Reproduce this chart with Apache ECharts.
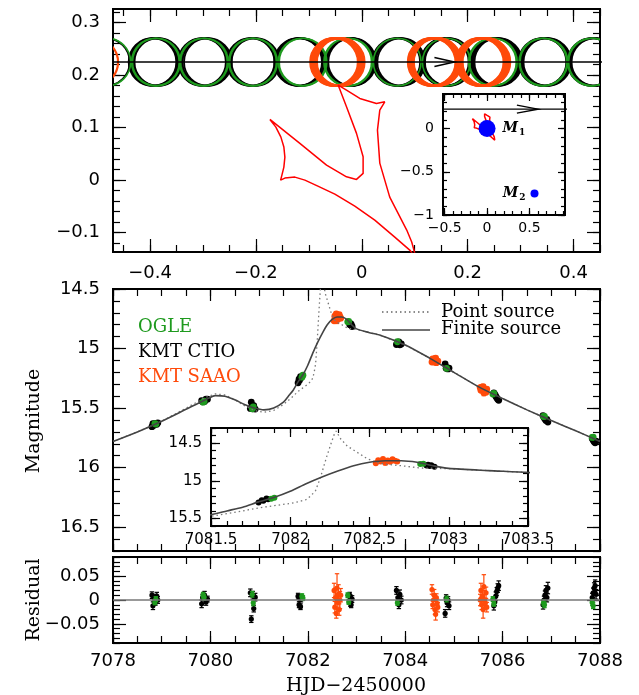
<!DOCTYPE html>
<html lang="en">
<head>
<meta charset="UTF-8">
<title>Caustic crossing and light curve</title>
<style>
  html, body { margin: 0; padding: 0; background: #fff; }
  #app { width: 639px; height: 695px; }
</style>
</head>
<body>
<div id="app"></div>
<script src="https://cdn.jsdelivr.net/npm/echarts@6/dist/echarts.min.js"></script>
<script>
// source trajectory
var t0 = 7083.11, tE = 10.9, u0 = 0.225, rho = 0.045;
var trajX = [-1.2, 1.2];
var arrowMainX = 0.175, arrowInsetX = 0.6;

// caustic
var causticX = [-0.1736, -0.1623, -0.1528, -0.1472, -0.1453, -0.1472, -0.1509, -0.1534, -0.1453, -0.1264,
  -0.1075, -0.083, -0.0509, -0.0132, 0.0245, 0.0623, 0.0906, 0.103, 0.0943, 0.0849,
  0.0528, 0.034, 0.0296, 0.034, 0.0434, 0.0277, -0.0038, -0.0289, -0.0447, -0.0289,
  -0.01, 0.0025, 0.0025, -0.01, -0.0289, -0.0666, -0.117, -0.1736];
var causticY = [0.1156, 0.101, 0.0819, 0.0629, 0.0438, 0.0248, 0.0095, 0.0, 0.0038, 0.0057,
  0.0, -0.0114, -0.0267, -0.0495, -0.0762, -0.1086, -0.1333, -0.150, -0.118, -0.0952,
  -0.0324, 0.0324, 0.0952, 0.1333, 0.1491, 0.1461, 0.1556, 0.1714, 0.181, 0.1396,
  0.089, 0.0444, 0.0128, 0.0013, 0.0063, 0.0286, 0.0699, 0.1156];

// lens components
var lensX = [0, 0.56];
var lensY = [0, -0.75];
var lensName = ['1', '2'];

// models
var finiteT = [7078.0, 7078.5, 7079.0, 7079.5, 7079.9, 7080.1, 7080.3, 7080.5, 7080.7, 7080.9,
  7081.1, 7081.3, 7081.5, 7081.6, 7081.7, 7081.8, 7081.9, 7082.0, 7082.1, 7082.2,
  7082.3, 7082.4, 7082.5, 7082.6, 7082.7, 7082.8, 7082.9, 7083.0, 7083.25, 7083.5,
  7084.0, 7084.5, 7085.0, 7085.5, 7086.0, 7086.5, 7087.0, 7087.5, 7088.0];
var finiteMag = [15.78, 15.70, 15.61, 15.51, 15.43, 15.395, 15.40, 15.43, 15.47, 15.50,
  15.515, 15.50, 15.45, 15.40, 15.35, 15.28, 15.22, 15.14, 15.04, 14.95,
  14.87, 14.80, 14.755, 14.735, 14.735, 14.755, 14.80, 14.835, 14.865, 14.89,
  14.97, 15.08, 15.20, 15.32, 15.42, 15.515, 15.605, 15.69, 15.78];
var pointT = [7078.0, 7078.5, 7079.0, 7079.5, 7079.9, 7080.1, 7080.3, 7080.5, 7080.7, 7080.9,
  7081.1, 7081.3, 7081.5, 7081.7, 7081.8, 7081.9, 7082.0, 7082.05, 7082.1, 7082.13,
  7082.16, 7082.19, 7082.21, 7082.23, 7082.26, 7082.28, 7082.29, 7082.30, 7082.32, 7082.36,
  7082.42, 7082.48, 7082.54, 7082.6, 7082.7, 7082.82, 7083.0, 7083.25, 7083.5, 7084.0,
  7084.5, 7085.0, 7085.5, 7086.0, 7086.5, 7087.0, 7087.5, 7088.0];
var pointMag = [15.78, 15.70, 15.61, 15.50, 15.41, 15.38, 15.39, 15.43, 15.48, 15.52,
  15.535, 15.52, 15.47, 15.40, 15.36, 15.33, 15.30, 15.28, 15.25, 15.20,
  15.13, 14.96, 14.82, 14.68, 14.49, 14.37, 14.34, 14.38, 14.45, 14.54,
  14.62, 14.70, 14.755, 14.78, 14.80, 14.83, 14.84, 14.865, 14.89, 14.97,
  15.08, 15.20, 15.32, 15.42, 15.515, 15.605, 15.69, 15.78];

// OGLE
var ogleT = [7078.86, 7078.88, 7079.85, 7079.87, 7080.86, 7080.88, 7081.88, 7081.90, 7082.82, 7082.84,
  7083.84, 7084.85, 7085.80, 7085.82, 7086.84, 7086.86, 7087.84, 7087.86];
var ogleMag = [15.63, 15.634, 15.45, 15.442, 15.506, 15.491, 15.24, 15.224, 14.776, 14.773,
  14.943, 15.166, 15.382, 15.376, 15.57, 15.57, 15.746, 15.743];
var ogleErr = [0.005, 0.005, 0.006, 0.006, 0.006, 0.006, 0.005, 0.005, 0.005, 0.005,
  0.005, 0.006, 0.005, 0.005, 0.006, 0.006, 0.006, 0.006];
var ogleRes = [-0.005, 0.002, 0.01, 0.006, 0.012, -0.006, 0.008, 0.004, 0.01, -0.004,
  -0.006, 0.002, 0.002, -0.008, -0.006, -0.01, -0.005, -0.012];

// KMT CTIO
var ctioT = [7078.80, 7078.82, 7078.84, 7078.87, 7078.90, 7078.92,
  7079.82, 7079.84, 7079.88, 7079.91, 7079.94,
  7080.82, 7080.84, 7080.87, 7080.89, 7080.92,
  7081.80, 7081.82, 7081.83, 7081.85, 7081.86,
  7082.86, 7082.87, 7082.88, 7082.89, 7082.91,
  7083.82, 7083.85, 7083.87, 7083.89, 7083.92,
  7084.82, 7084.84, 7084.86, 7084.88, 7084.90,
  7085.82, 7085.84, 7085.86, 7085.88, 7085.90, 7085.92,
  7086.83, 7086.85, 7086.87, 7086.89, 7086.91, 7086.93,
  7087.84, 7087.86, 7087.88, 7087.90, 7087.92];
var ctioMag = [15.656, 15.630, 15.644, 15.628, 15.636, 15.624,
  15.438, 15.447, 15.444, 15.424, 15.425,
  15.503, 15.451, 15.506, 15.48, 15.508,
  15.288, 15.258, 15.266, 15.236, 15.246,
  14.798, 14.788, 14.803, 14.795, 14.815,
  14.966, 14.956, 14.944, 14.969, 14.962,
  15.129, 15.166, 15.16, 15.171, 15.164,
  15.372, 15.384, 15.40, 15.414, 15.425, 15.434,
  15.564, 15.578, 15.592, 15.605, 15.594, 15.617,
  15.756, 15.77, 15.783, 15.792, 15.778];
var ctioErr = [0.007, 0.008, 0.007, 0.006, 0.008, 0.007,
  0.008, 0.007, 0.008, 0.007, 0.006,
  0.008, 0.007, 0.008, 0.007, 0.008,
  0.006, 0.006, 0.007, 0.006, 0.006,
  0.006, 0.007, 0.006, 0.006, 0.007,
  0.008, 0.007, 0.008, 0.009, 0.008,
  0.008, 0.007, 0.008, 0.007, 0.008,
  0.009, 0.008, 0.009, 0.008, 0.009, 0.01,
  0.009, 0.008, 0.009, 0.01, 0.009, 0.012,
  0.009, 0.01, 0.011, 0.012, 0.01];
var ctioRes = [0.01, -0.012, 0.005, -0.005, 0.008, 0.0,
  -0.008, 0.005, 0.01, -0.004, 0.002,
  0.015, -0.04, 0.01, -0.018, 0.006,
  0.008, -0.01, 0.004, -0.014, 0.002,
  0.01, -0.006, 0.004, -0.01, 0.002,
  0.02, 0.005, -0.01, 0.012, 0.0,
  -0.028, 0.004, -0.006, 0.0, -0.012,
  -0.012, -0.004, 0.008, 0.018, 0.025, 0.03,
  -0.01, 0.0, 0.01, 0.02, 0.005, 0.025,
  0.005, 0.015, 0.025, 0.03, 0.012];

// KMT SAAO
var saaoT = [7082.54, 7082.555, 7082.57, 7082.585, 7082.60, 7082.615, 7082.63, 7082.645, 7082.66, 7082.675,
  7084.55, 7084.565, 7084.58, 7084.595, 7084.61, 7084.625, 7084.64, 7084.655, 7084.67,
  7085.54, 7085.555, 7085.57, 7085.585, 7085.60, 7085.615, 7085.63, 7085.645, 7085.66, 7085.675];
var saaoMag = [14.767, 14.729, 14.746, 14.71, 14.76, 14.73, 14.747, 14.715, 14.735, 14.745,
  15.114, 15.086, 15.099, 15.113, 15.086, 15.08, 15.119, 15.109, 15.106,
  15.328, 15.351, 15.324, 15.345, 15.32, 15.371, 15.346, 15.343, 15.367, 15.34];
var saaoErr = [0.015, 0.012, 0.02, 0.01, 0.03, 0.015, 0.02, 0.012, 0.018, 0.014,
  0.01, 0.008, 0.01, 0.012, 0.01, 0.012, 0.008, 0.01, 0.01,
  0.012, 0.015, 0.01, 0.012, 0.018, 0.025, 0.02, 0.01, 0.012, 0.01];
var saaoRes = [0.02, -0.015, 0.005, -0.028, 0.025, -0.005, 0.012, -0.02, 0.0, 0.01,
  0.022, -0.01, 0.0, 0.01, -0.02, -0.03, 0.005, -0.008, -0.015,
  0.0, 0.02, -0.01, 0.008, -0.02, 0.028, 0.0, -0.006, 0.015, -0.015];

// epochs before the plotted window (seen only in the source plane)
var ogleEarlyT = [7077.86], ctioEarlyT = [7077.84], saaoEarlyT = [7077.6];

// tick labels
var srcXLabels = [-0.4, -0.2, 0, 0.2, 0.4];
var srcYLabels = [-0.1, 0, 0.1, 0.2, 0.3];
var lensXLabels = [-0.5, 0, 0.5];
var lensYLabels = [-1, -0.5, 0];
var timeLabels = [7078, 7080, 7082, 7084, 7086, 7088];
var magLabels = [14.5, 15, 15.5, 16, 16.5];
var zoomTLabels = [7081.5, 7082, 7082.5, 7083, 7083.5];
var zoomMagLabels = [14.5, 15, 15.5];
var resLabels = [-0.05, 0, 0.05];

var GREEN = '#1e9a1e', ORANGE = '#ff4a0a', INK = '#000', BLUE = '#0000ff';
var SANS = 'DejaVu Sans', SERIF = 'DejaVu Serif';

function fmt(v) { return String(+(+v).toFixed(3)).replace('-', '\u2212'); }
function steps(a, b, d) {
  var out = [];
  for (var v = a; v <= b + d / 1000; v += d) out.push(+v.toFixed(4));
  return out;
}
function zip(a, b, c) { return a.map(function (v, i) { return c ? [v, b[i], c[i]] : [v, b[i]]; }); }
function src(t) { return [(t - t0) / tE, u0]; }

var chart = echarts.init(document.getElementById('app'));

var grid = [
  { left: 113, top: 9, width: 487, height: 243 },
  { left: 443, top: 94, width: 122, height: 121 },
  { left: 113, top: 289, width: 487, height: 262 },
  { left: 211, top: 428, width: 317, height: 98 },
  { left: 113, top: 557, width: 487, height: 86 }
].map(function (g) {
  return Object.assign({ show: true, borderColor: INK, borderWidth: 2, backgroundColor: '#fff', outerBoundsMode: 'none' }, g);
});

var xAxis = [], yAxis = [];
function axisPart(gi, pos, o, ticks, len, labels) {
  return {
    type: 'value', gridIndex: gi, position: pos,
    min: o.min, max: o.max, inverse: !!o.inverse, silent: true,
    axisLine: { show: false, onZero: false },
    splitLine: { show: false },
    axisTick: { show: true, inside: true, length: len, customValues: ticks, lineStyle: { color: INK, width: 1.2 } },
    axisLabel: labels ? {
      show: true, customValues: labels, formatter: fmt, color: INK,
      fontFamily: SANS, fontSize: o.fs, margin: o.margin
    } : { show: false }
  };
}
function addAxis(list, gi, dim, o) {
  var idx = list.length;
  (dim === 'x' ? ['bottom', 'top'] : ['left', 'right']).forEach(function (pos, s) {
    list.push(axisPart(gi, pos, o, o.major, o.long, s === 0 ? o.labels : null));
    list.push(axisPart(gi, pos, o, o.minor, o.short, null));
  });
  return idx;
}

// source plane
var X0 = addAxis(xAxis, 0, 'x', { min: -0.47, max: 0.45, major: srcXLabels, minor: steps(-0.45, 0.45, 0.05), labels: srcXLabels, long: 13, short: 7, fs: 18, margin: 12 });
var Y0 = addAxis(yAxis, 0, 'y', { min: -0.137, max: 0.326, major: srcYLabels, minor: steps(-0.12, 0.32, 0.02), labels: srcYLabels, long: 13, short: 7, fs: 18, margin: 13 });
var X1 = addAxis(xAxis, 1, 'x', { min: -0.52, max: 0.92, major: lensXLabels, minor: steps(-0.5, 0.9, 0.1), labels: lensXLabels, long: 7, short: 4, fs: 14, margin: 6 });
var Y1 = addAxis(yAxis, 1, 'y', { min: -1, max: 0.4, major: lensYLabels, minor: steps(-1, 0.4, 0.1), labels: lensYLabels, long: 7, short: 4, fs: 14, margin: 9 });
// light curve
var X2 = addAxis(xAxis, 2, 'x', { min: 7078, max: 7088, major: timeLabels, minor: steps(7078, 7088, 0.5), labels: null, long: 12, short: 7 });
var Y2 = addAxis(yAxis, 2, 'y', { min: 14.5, max: 16.7, inverse: true, major: magLabels, minor: steps(14.5, 16.7, 0.1), labels: magLabels, long: 13, short: 7, fs: 18, margin: 13 });
var X3 = addAxis(xAxis, 3, 'x', { min: 7081.5, max: 7083.5, major: zoomTLabels, minor: steps(7081.5, 7083.5, 0.1), labels: zoomTLabels, long: 9, short: 5, fs: 15, margin: 7 });
var Y3 = addAxis(yAxis, 3, 'y', { min: 14.3, max: 15.6, inverse: true, major: zoomMagLabels, minor: steps(14.3, 15.6, 0.1), labels: zoomMagLabels, long: 9, short: 5, fs: 15, margin: 9 });
// residuals
var X4 = addAxis(xAxis, 4, 'x', { min: 7078, max: 7088, major: timeLabels, minor: steps(7078, 7088, 0.5), labels: timeLabels, long: 12, short: 7, fs: 18, margin: 9 });
var Y4 = addAxis(yAxis, 4, 'y', { min: -0.09, max: 0.09, major: resLabels, minor: steps(-0.09, 0.09, 0.01), labels: resLabels, long: 13, short: 7, fs: 18, margin: 13 });

function ring(color, w) {
  return function (params, api) {
    var c = api.coord([api.value(0), api.value(1)]);
    var s = api.size([rho, rho]);
    return { type: 'circle', shape: { cx: c[0], cy: c[1], r: s[0] }, style: { fill: 'none', stroke: color, lineWidth: w } };
  };
}
function chevron(len, half) {
  return function (params, api) {
    var p = api.coord([api.value(0), api.value(1)]);
    return { type: 'polyline', shape: { points: [[p[0] - len, p[1] - half], p, [p[0] - len, p[1] + half]] }, style: { fill: 'none', stroke: INK, lineWidth: 1.5 } };
  };
}
function obs(color, r) {
  return function (params, api) {
    var t = api.value(0), y = api.value(1), e = api.value(2);
    var p = api.coord([t, y]), a = api.coord([t, y - e]), b = api.coord([t, y + e]);
    var st = { stroke: color, lineWidth: 1.2 };
    return { type: 'group', children: [
      { type: 'line', shape: { x1: p[0], y1: a[1], x2: p[0], y2: b[1] }, style: st },
      { type: 'line', shape: { x1: p[0] - 2.2, y1: a[1], x2: p[0] + 2.2, y2: a[1] }, style: st },
      { type: 'line', shape: { x1: p[0] - 2.2, y1: b[1], x2: p[0] + 2.2, y2: b[1] }, style: st },
      { type: 'circle', shape: { cx: p[0], cy: p[1], r: r }, style: { fill: color } }
    ] };
  };
}

var caustic = zip(causticX, causticY);
var traj = trajX.map(function (x) { return [x, u0]; });
var series = [];

// source plane panel
series.push({ type: 'line', xAxisIndex: X0, yAxisIndex: Y0, data: traj, showSymbol: false, silent: true, lineStyle: { color: INK, width: 1.3 } });
series.push({ type: 'custom', xAxisIndex: X0, yAxisIndex: Y0, clip: true, silent: true, renderItem: ring(INK, 1.8), data: ctioEarlyT.concat(ctioT).map(src) });
series.push({ type: 'custom', xAxisIndex: X0, yAxisIndex: Y0, clip: true, silent: true, renderItem: ring(GREEN, 1.6), data: ogleEarlyT.concat(ogleT).map(src) });
series.push({ type: 'custom', xAxisIndex: X0, yAxisIndex: Y0, clip: true, silent: true, renderItem: ring(ORANGE, 2.2), data: saaoEarlyT.concat(saaoT).map(src) });
series.push({ type: 'custom', xAxisIndex: X0, yAxisIndex: Y0, silent: true, renderItem: chevron(20, 4.5), data: [[arrowMainX, u0]] });
series.push({ type: 'line', xAxisIndex: X0, yAxisIndex: Y0, data: caustic, showSymbol: false, silent: true, lineStyle: { color: '#ff0000', width: 1.5 } });

// lens plane inset
series.push({ type: 'line', xAxisIndex: X1, yAxisIndex: Y1, data: traj, showSymbol: false, silent: true, lineStyle: { color: INK, width: 1.3 } });
series.push({ type: 'custom', xAxisIndex: X1, yAxisIndex: Y1, silent: true, renderItem: chevron(21, 4), data: [[arrowInsetX, u0]] });
series.push({ type: 'line', xAxisIndex: X1, yAxisIndex: Y1, data: caustic, showSymbol: false, silent: true, lineStyle: { color: '#ff0000', width: 1.5 } });
var lensDot = [17, 8], lensLabelPos = ['right', 'left'], lensLabelGap = [7, 5];
series.push({
  type: 'scatter', xAxisIndex: X1, yAxisIndex: Y1, silent: true, z: 4,
  itemStyle: { color: BLUE, opacity: 1 },
  data: lensX.map(function (x, i) {
    return {
      value: [x, lensY[i]], symbolSize: lensDot[i],
      label: { show: true, position: lensLabelPos[i], distance: lensLabelGap[i], formatter: '{m|M}{s|' + lensName[i] + '}' }
    };
  }),
  label: {
    rich: {
      m: { fontFamily: SERIF, fontStyle: 'italic', fontWeight: 'bold', fontSize: 14, color: INK },
      s: { fontFamily: SERIF, fontWeight: 'bold', fontSize: 9, color: INK, padding: [9, 0, 0, 1] }
    }
  }
});

// light curve and its zoom
[[X2, Y2, 3.4], [X3, Y3, 3]].forEach(function (ax) {
  series.push({ type: 'line', xAxisIndex: ax[0], yAxisIndex: ax[1], data: zip(pointT, pointMag), showSymbol: false, silent: true, lineStyle: { color: '#777', width: 1.3, type: [1.5, 3] } });
  series.push({ type: 'line', xAxisIndex: ax[0], yAxisIndex: ax[1], data: zip(finiteT, finiteMag), smooth: 0.25, showSymbol: false, silent: true, lineStyle: { color: '#444', width: 1.6 } });
  series.push({ type: 'custom', xAxisIndex: ax[0], yAxisIndex: ax[1], clip: true, silent: true, renderItem: obs(INK, ax[2]), data: zip(ctioT, ctioMag, ctioErr) });
  series.push({ type: 'custom', xAxisIndex: ax[0], yAxisIndex: ax[1], clip: true, silent: true, renderItem: obs(GREEN, ax[2]), data: zip(ogleT, ogleMag, ogleErr) });
  series.push({ type: 'custom', xAxisIndex: ax[0], yAxisIndex: ax[1], clip: true, silent: true, renderItem: obs(ORANGE, ax[2]), data: zip(saaoT, saaoMag, saaoErr) });
});

// residuals
series.push({ type: 'line', xAxisIndex: X4, yAxisIndex: Y4, data: [[7078, 0], [7088, 0]], showSymbol: false, silent: true, lineStyle: { color: '#777', width: 1.6 } });
series.push({ type: 'custom', xAxisIndex: X4, yAxisIndex: Y4, clip: true, silent: true, renderItem: obs(INK, 2.6), data: zip(ctioT, ctioRes, ctioErr) });
series.push({ type: 'custom', xAxisIndex: X4, yAxisIndex: Y4, clip: true, silent: true, renderItem: obs(GREEN, 2.6), data: zip(ogleT, ogleRes, ogleErr) });
series.push({ type: 'custom', xAxisIndex: X4, yAxisIndex: Y4, clip: true, silent: true, renderItem: obs(ORANGE, 2.6), data: zip(saaoT, saaoRes, saaoErr) });

function label(text, x, y, color, extra) {
  return Object.assign({
    type: 'text', x: x, y: y, silent: true,
    style: { text: text, fill: color || INK, fontFamily: SERIF, fontSize: 18, align: 'left', verticalAlign: 'middle' }
  }, extra || {});
}
var graphic = [
  label('OGLE', 138, 327, GREEN),
  label('KMT CTIO', 138, 352, INK),
  label('KMT SAAO', 138, 377, ORANGE),
  { type: 'line', silent: true, shape: { x1: 382, y1: 312, x2: 430, y2: 312 }, style: { stroke: '#666', lineWidth: 1.3, lineDash: [1.5, 3] } },
  { type: 'line', silent: true, shape: { x1: 382, y1: 330, x2: 430, y2: 330 }, style: { stroke: '#444', lineWidth: 1.4 } },
  label('Point source', 441, 312, INK),
  label('Finite source', 441, 329, INK),
  label('Magnitude', 34, 421, INK, { rotation: Math.PI / 2, style: { text: 'Magnitude', fill: INK, fontFamily: SERIF, fontSize: 19, align: 'center', verticalAlign: 'middle' } }),
  label('Residual', 34, 600, INK, { rotation: Math.PI / 2, style: { text: 'Residual', fill: INK, fontFamily: SERIF, fontSize: 19, align: 'center', verticalAlign: 'middle' } }),
  label('HJD\u22122450000', 356, 686, INK, { style: { text: 'HJD\u22122450000', fill: INK, fontFamily: SERIF, fontSize: 19, align: 'center', verticalAlign: 'middle' } })
];

chart.setOption({
  animation: false,
  grid: grid,
  xAxis: xAxis,
  yAxis: yAxis,
  series: series,
  graphic: graphic
});
</script>
</body>
</html>
